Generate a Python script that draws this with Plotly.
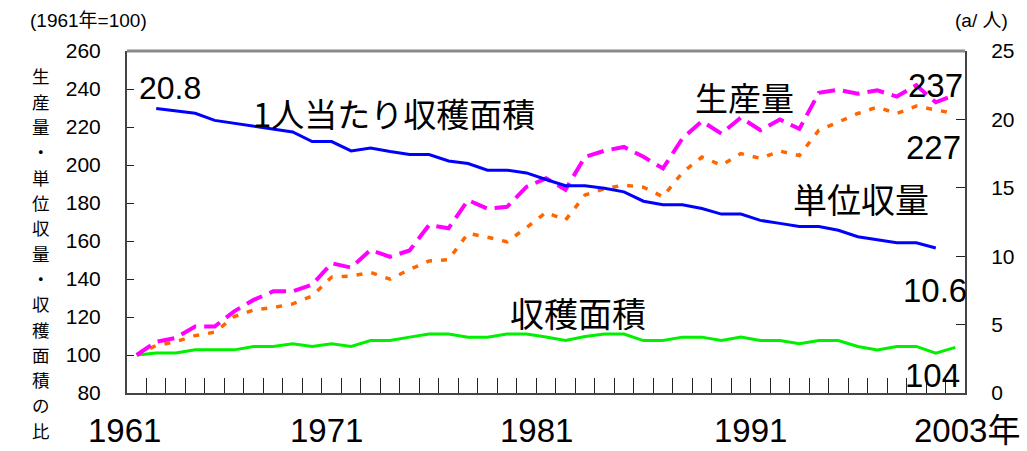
import plotly.graph_objects as go

# ---- data -------------------------------------------------------------
years = list(range(1961, 2004))

# production index (1961 = 100)
production = [100, 107, 109, 115, 115, 123, 129, 133.5, 133.5, 137,
              148.3, 146, 155.3, 151.7, 155, 168.4, 166.7, 181.5, 177, 178,
              188.5, 193, 187, 204.3, 207.5, 209.5, 204.3, 198.2, 214, 223,
              216.5, 225, 218.3, 224, 219, 238, 239.6, 237.5, 239.3, 236,
              242, 233, 237]

# yield per unit area index (1961 = 100)
unit_yield = [100, 105, 107, 110.2, 112, 120.2, 123.7, 125, 126.9, 131,
              141, 141.5, 143.5, 139.9, 145, 149.5, 150.2, 164, 162, 159.6,
              167, 175, 171, 184.2, 187.5, 189.4, 188.3, 183.3, 196, 204.2,
              199.9, 206, 203.5, 207.3, 205, 218.3, 222.6, 227.1, 230.5, 227.1,
              231, 228.8, 227]

# harvested area index (1961 = 100)
harvested_area = [100, 101, 101, 102.7, 102.7, 102.7, 104.5, 104.5, 105.9, 104.5,
                  105.9, 104.5, 107.6, 107.6, 109.4, 111, 111, 109.4, 109.4, 111,
                  111, 109.5, 107.6, 109.7, 111, 111, 107.6, 107.6, 109.4, 109.4,
                  107.6, 109.4, 107.6, 107.6, 105.9, 107.6, 107.6, 104.5, 102.7, 104.5,
                  104.5, 101, 104]

# harvested area per person (a / person)
pc_years = list(range(1962, 2003))
area_per_capita = [20.8, 20.6, 20.45, 19.93, 19.72, 19.52, 19.3, 19.08, 18.38, 18.38,
                   17.7, 17.91, 17.65, 17.43, 17.43, 16.96, 16.77, 16.29, 16.29, 16.09,
                   15.61, 15.15, 15.15, 14.97, 14.7, 14.02, 13.76, 13.76, 13.49, 13.08,
                   13.08, 12.62, 12.4, 12.17, 12.17, 11.9, 11.42, 11.18, 10.98, 10.98,
                   10.6]

left_ticks = list(range(80, 261, 20))
right_ticks = list(range(0, 26, 5))
year_label_pos = [1961, 1971, 1981, 1991, 2003]
year_label_text = ["1961", "1971", "1981", "1991", "2003年"]
year_label_shift = [-12, -5, 10, 29, 12]

# ---- page geometry ----------------------------------------------------
W, H = 1027, 451
ML, MR, MT, MB = 127, 54, 51, 58
PW, PH = W - ML - MR, H - MT - MB


def px(x, y):
    """pixel position on the page -> paper coordinates"""
    return (x - ML) / PW, (H - MB - y) / PH


NUM_FONT = "Liberation Sans, Arial, sans-serif"
JP_FONT = "Noto Sans CJK JP, sans-serif"

fig = go.Figure()

fig.add_trace(go.Scatter(x=years, y=harvested_area, mode="lines",
                         line=dict(color="#00f000", width=3),
                         name="収穫面積", showlegend=False))
fig.add_trace(go.Scatter(x=years, y=unit_yield, mode="lines",
                         line=dict(color="#ff6600", width=3.5, dash="6px,9px"),
                         name="単位収量", showlegend=False))
fig.add_trace(go.Scatter(x=years, y=production, mode="lines",
                         line=dict(color="#ff00ff", width=4, dash="17px,8px"),
                         name="生産量", showlegend=False))
fig.add_trace(go.Scatter(x=pc_years, y=area_per_capita, mode="lines",
                         line=dict(color="#0000ff", width=3),
                         name="1人当たり収穫面積", yaxis="y2", showlegend=False))

fig.update_layout(
    width=W, height=H,
    margin=dict(l=ML, r=MR, t=MT, b=MB),
    paper_bgcolor="white", plot_bgcolor="white",
    xaxis=dict(range=[1960.5, 2003.5], tick0=1960.5, dtick=1,
               ticks="inside", ticklen=15, tickcolor="#222", tickwidth=1,
               showticklabels=False, showgrid=False, zeroline=False,
               showline=True, linecolor="#444", linewidth=2),
    yaxis=dict(range=[80, 260], tickvals=left_ticks,
               ticks="inside", ticklen=7, tickcolor="#222", tickwidth=1,
               showgrid=False, zeroline=False,
               showline=True, linecolor="#444", linewidth=2,
               tickfont=dict(family=NUM_FONT, size=21, color="black"),
               ticklabelstandoff=20),
    yaxis2=dict(range=[0, 25], tickvals=right_ticks, overlaying="y", side="right",
                ticks="inside", ticklen=9, tickcolor="#222", tickwidth=1,
                showgrid=False, zeroline=False,
                showline=True, linecolor="#444", linewidth=2,
                tickfont=dict(family=NUM_FONT, size=21, color="black"),
                ticklabelstandoff=20),
    showlegend=False,
)

# grey top border of the plot frame
fig.add_shape(type="line", xref="paper", yref="paper", x0=0, x1=1, y0=1, y1=1,
              line=dict(color="#8a8a8a", width=3))

annotations = []


def label(text, x, y, size, font=JP_FONT, xanchor="center"):
    ax, ay = px(x, y)
    annotations.append(dict(text=text, x=ax, y=ay, xref="paper", yref="paper",
                            showarrow=False, xanchor=xanchor, yanchor="middle",
                            font=dict(family=font, size=size, color="black")))


# year labels under the axis
for yr, txt, sh in zip(year_label_pos, year_label_text, year_label_shift):
    annotations.append(dict(text=txt, x=yr, y=0, xref="x", yref="paper",
                            yanchor="top", yshift=-17, xshift=sh, showarrow=False,
                            font=dict(family=NUM_FONT + ", " + JP_FONT,
                                      size=33, color="black")))

label("(1961年=100)", 88, 21, 19, font=NUM_FONT + ", " + JP_FONT)
label("(a/ 人)", 990, 21, 19, font=NUM_FONT + ", " + JP_FONT)

# series names and end values
label("20.8", 170, 88, 32, font=NUM_FONT)
label("1人当たり収穫面積", 397, 113, 33)
label("生産量", 750, 97, 33)
label("237", 943, 85, 33, font=NUM_FONT)
label("227", 941, 147, 33, font=NUM_FONT)
label("単位収量", 868, 198, 34)
label("10.6", 943, 290, 33, font=NUM_FONT)
label("収穫面積", 582, 312, 34)
label("104", 940, 375, 33, font=NUM_FONT)

# vertical axis title, one character per row
title_chars = ["生", "産", "量", "・", "単", "位", "収", "量", "・", "収", "穫", "面", "積", "の", "比"]
for i, ch in enumerate(title_chars):
    label(ch, 40, 76 + i * 25.3, 17.5)

fig.update_layout(annotations=annotations)

fig.write_html("out.html")
